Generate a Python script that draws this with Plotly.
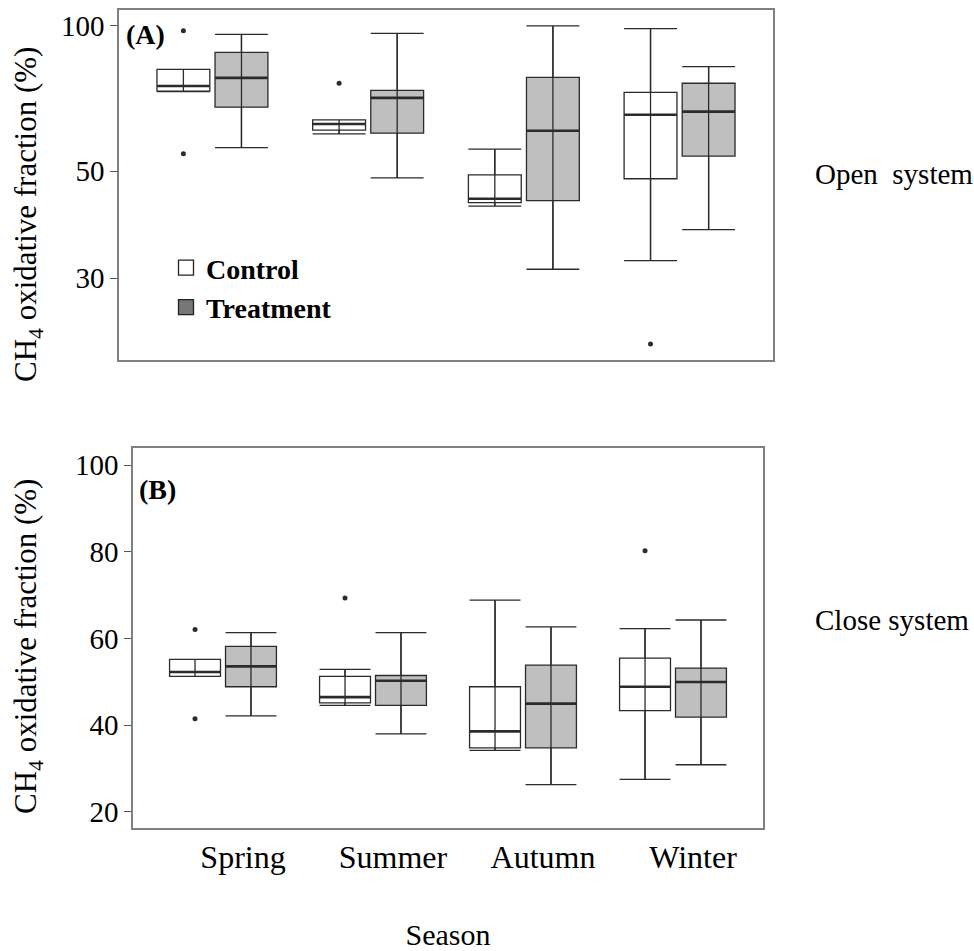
import plotly.graph_objects as go
import math

# ---------------- data ----------------
seasons = ["Spring", "Summer", "Autumn", "Winter"]

# (A) Open system
ctrl_open_lo = [73.0, 59.7, 42.3, 32.6]
ctrl_open_q1 = [73.2, 60.8, 43.0, 48.2]
ctrl_open_med = [75.0, 62.6, 43.8, 65.4]
ctrl_open_q3 = [81.2, 63.8, 49.1, 72.8]
ctrl_open_hi = [81.2, 63.8, 55.5, 98.6]
ctrl_open_out_x = ["Spring", "Spring", "Summer", "Winter"]
ctrl_open_out_y = [97.6, 54.3, 76.0, 21.9]

trt_open_lo = [55.9, 48.4, 31.3, 37.8]
trt_open_q1 = [67.8, 59.9, 43.4, 53.7]
trt_open_med = [78.0, 70.9, 60.6, 66.4]
trt_open_q3 = [88.1, 73.5, 78.2, 76.0]
trt_open_hi = [96.0, 96.4, 99.9, 82.3]

# (B) Close system
ctrl_close_lo = [51.3, 44.6, 34.2, 27.5]
ctrl_close_q1 = [51.3, 45.2, 34.8, 43.4]
ctrl_close_med = [52.3, 46.5, 38.6, 48.9]
ctrl_close_q3 = [55.2, 51.3, 48.9, 55.5]
ctrl_close_hi = [55.2, 52.9, 68.9, 62.3]
ctrl_close_out_x = ["Spring", "Spring", "Summer", "Winter"]
ctrl_close_out_y = [62.1, 41.5, 69.4, 80.3]

trt_close_lo = [42.2, 38.0, 26.3, 30.9]
trt_close_q1 = [48.9, 44.6, 34.8, 41.9]
trt_close_med = [53.6, 50.3, 45.0, 50.0]
trt_close_q3 = [58.2, 51.5, 53.9, 53.2]
trt_close_hi = [61.4, 61.4, 62.7, 64.3]

open_ticks = [30, 50, 100]
close_ticks = [20, 40, 60, 80, 100]

# ---------------- styling ----------------
W, H = 974, 951
FONT = "Liberation Serif, Times New Roman, serif"
LINE = "#2b2b2b"
CTRL_FILL = "white"
TRT_FILL = "#bfbfbf"
FRAME = "#7f7f7f"


def px_x(p):
    return p / W


def px_y(p):
    return 1 - p / H


fig = go.Figure()


def add_panel(xa, ya, c, t, out_x, out_y, med_size):
    for key, stats, fill in (("c", c, CTRL_FILL), ("t", t, TRT_FILL)):
        lo, q1, med, q3, hi = stats
        fig.add_trace(go.Box(
            x=seasons, q1=q1, median=med, q3=q3, lowerfence=lo, upperfence=hi,
            offsetgroup=key, alignmentgroup="g", boxpoints=False,
            fillcolor=fill, line=dict(color=LINE, width=1.3),
            whiskerwidth=1, showlegend=False, hoverinfo="skip",
            xaxis=xa, yaxis=ya,
        ))
    for key, stats in (("c", c), ("t", t)):
        lo, q1, med, q3, hi = stats
        lx, ly = [], []
        for s, a, b in zip(seasons, lo, hi):
            lx += [s, s, None]
            ly += [a, b, None]
        fig.add_trace(go.Scatter(
            x=lx, y=ly, mode="lines", offsetgroup=key, alignmentgroup="g",
            line=dict(color=LINE, width=1.3), showlegend=False,
            hoverinfo="skip", xaxis=xa, yaxis=ya,
        ))
        fig.add_trace(go.Scatter(
            x=seasons, y=med, mode="markers", offsetgroup=key, alignmentgroup="g",
            marker=dict(symbol="line-ew", size=med_size,
                        line=dict(color=LINE, width=2.6)),
            showlegend=False, hoverinfo="skip", xaxis=xa, yaxis=ya,
        ))
    fig.add_trace(go.Scatter(
        x=out_x, y=out_y, mode="markers", offsetgroup="c", alignmentgroup="g",
        marker=dict(color=LINE, size=5), showlegend=False,
        hoverinfo="skip", xaxis=xa, yaxis=ya,
    ))


add_panel("x", "y",
          (ctrl_open_lo, ctrl_open_q1, ctrl_open_med, ctrl_open_q3, ctrl_open_hi),
          (trt_open_lo, trt_open_q1, trt_open_med, trt_open_q3, trt_open_hi),
          ctrl_open_out_x, ctrl_open_out_y, 37.5)
add_panel("x2", "y2",
          (ctrl_close_lo, ctrl_close_q1, ctrl_close_med, ctrl_close_q3, ctrl_close_hi),
          (trt_close_lo, trt_close_q1, trt_close_med, trt_close_q3, trt_close_hi),
          ctrl_close_out_x, ctrl_close_out_y, 36)

# legend entries
fig.add_trace(go.Scatter(
    x=[None], y=[None], mode="markers", name="<b>Control</b>",
    offsetgroup="c", alignmentgroup="g",
    marker=dict(symbol="square", size=15, color="white",
                line=dict(color="#222", width=1.3)),
))
fig.add_trace(go.Scatter(
    x=[None], y=[None], mode="markers", name="<b>Treatment</b>",
    offsetgroup="t", alignmentgroup="g",
    marker=dict(symbol="square", size=15, color="#777777",
                line=dict(color="#222", width=1.3)),
))

axis_common = dict(showline=True, mirror=True, linecolor=FRAME, linewidth=1.5,
                   showgrid=False, zeroline=False)

fig.update_layout(
    width=W, height=H, margin=dict(l=0, r=0, t=0, b=0),
    paper_bgcolor="white", plot_bgcolor="white",
    font=dict(family=FONT, color="black"),
    boxmode="group", boxgap=0.254, boxgroupgap=0.09,
    scattermode="group", scattergap=0.254,
    xaxis=dict(domain=[px_x(119), px_x(773)], anchor="y", type="category",
               categoryorder="array", categoryarray=seasons,
               range=[-0.6, 3.6], showticklabels=False, ticks="", **axis_common),
    yaxis=dict(domain=[px_y(360), px_y(10)], anchor="x", type="log",
               range=[math.log10(20.3), math.log10(107.8)],
               tickvals=open_ticks, ticktext=[str(v) for v in open_ticks],
               ticks="outside", ticklen=7, tickcolor="#555", tickwidth=1,
               tickfont=dict(size=29), **axis_common),
    xaxis2=dict(domain=[px_x(133), px_x(763)], anchor="y2", type="category",
                categoryorder="array", categoryarray=seasons,
                range=[-0.6, 3.6], ticks="", ticklabelshift=20,
                tickfont=dict(size=32),
                title=dict(text="Season", font=dict(size=30), standoff=50),
                automargin=False, **axis_common),
    yaxis2=dict(domain=[px_y(828), px_y(448)], anchor="x2",
                range=[16.3, 104], tickvals=close_ticks,
                ticks="outside", ticklen=7, tickcolor="#555", tickwidth=1,
                tickfont=dict(size=29), **axis_common),
    legend=dict(x=px_x(166), y=px_y(243), xanchor="left", yanchor="top",
                font=dict(size=28, family=FONT), bgcolor="rgba(0,0,0,0)",
                itemclick=False, itemdoubleclick=False),
    showlegend=True,
)

ytitle = "CH<sub>4</sub> oxidative fraction (%)"
annotations = [
    dict(text=ytitle, x=px_x(28), y=px_y(215), textangle=-90, font=dict(size=31)),
    dict(text=ytitle, x=px_x(28), y=px_y(647), textangle=-90, font=dict(size=31)),
    dict(text="<b>(A)</b>", x=px_x(124), y=px_y(35), xanchor="left", font=dict(size=28)),
    dict(text="<b>(B)</b>", x=px_x(137), y=px_y(489), xanchor="left", font=dict(size=28)),
    dict(text="Open\u00a0 system", x=px_x(813), y=px_y(174), xanchor="left", font=dict(size=29)),
    dict(text="Close system", x=px_x(813), y=px_y(620), xanchor="left", font=dict(size=29)),
]
for a in annotations:
    a.update(xref="paper", yref="paper", showarrow=False)
    a.setdefault("xanchor", "center")
    a.setdefault("yanchor", "middle")
fig.update_layout(annotations=annotations)

fig.write_html("out.html")
